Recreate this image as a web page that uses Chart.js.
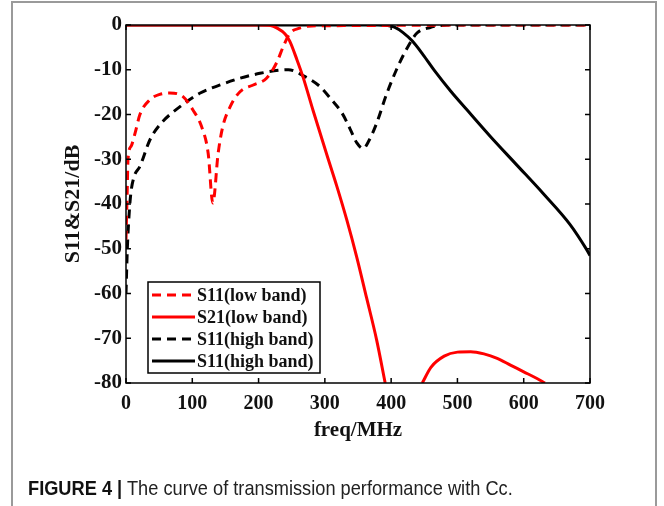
<!DOCTYPE html>
<html>
<head>
<meta charset="utf-8">
<script src="https://cdn.jsdelivr.net/npm/chart.js@4.4.1/dist/chart.umd.min.js"></script>
<style>
  html, body { margin: 0; padding: 0; background: #fff; }
  #wrap { position: relative; width: 664px; height: 506px; overflow: hidden; }
  #frame { position: absolute; left: 11px; top: 1px; width: 642px; height: 530px; border: 2px solid #9a9a9a; }
  #chart { position: absolute; left: 0; top: 0; }
  #caption { position: absolute; left: 28px; top: 476px; font-family: "Liberation Sans", Arial, sans-serif; font-size: 21px; color: #222; white-space: nowrap; transform-origin: left top; }
  #caption b { color: #111; }
</style>
</head>
<body>
<div id="wrap">
  <div id="frame"></div>
  <canvas id="chart" width="664" height="506"></canvas>
  <div id="caption"><b>FIGURE 4 |</b> The curve of transmission performance with Cc.</div>
</div>
<script>
//frequency axis (MHz) and dB values
const freqTicks = [0, 100, 200, 300, 400, 500, 600, 700];
const dbTicks = [0, -10, -20, -30, -40, -50, -60, -70, -80];

const s11LowFreq = [0, 1, 2, 3, 8, 14, 21, 36, 51, 66, 86, 101, 114, 124, 131, 139, 146, 157, 172, 192, 212, 227, 237, 247, 262, 280, 700];
const s11LowDb = [-48, -42, -36, -30, -27, -24, -20, -16.7, -15.5, -15.2, -16, -19, -22.7, -28.7, -39.8, -28.7, -22.7, -18.3, -14.9, -13.4, -11.9, -8.5, -4.9, -1.9, -0.7, -0.2, 0];

const s21LowFreq = [0, 200, 218, 228, 240, 247, 258, 267, 282, 303, 318, 333, 348, 363, 378, 391, 420, 447, 460, 480, 500, 520, 540, 560, 580, 600, 620, 632];
const s21LowDb = [0, 0, -0.1, -0.7, -2, -3.6, -7.8, -11.6, -19, -29, -36, -43.5, -51.8, -61, -70.3, -80, null, -80, -76.5, -74, -73.1, -73, -73.5, -74.5, -76, -77.5, -79, -80];

const s11HighFreq = [0, 2, 4, 7, 12, 21, 36, 51, 81, 112, 142, 172, 202, 232, 245, 267, 293, 310, 326, 338, 348, 358, 366, 378, 393, 408, 421, 439, 458, 484, 700];
const s11HighDb = [-60, -50, -44, -38, -34, -31.6, -25.7, -22.3, -18.3, -15.2, -13.4, -11.9, -10.8, -10.1, -10, -11.3, -13.8, -16.7, -19.7, -23.2, -26.3, -27.6, -26, -22, -15.5, -10, -6, -1.8, -0.6, 0, 0];

const s21HighFreq = [0, 380, 395, 405, 418, 432, 448, 466, 490, 514, 549, 589, 629, 670, 695, 700];
const s21HighDb = [0, 0, -0.1, -0.5, -1.7, -3.6, -6.6, -10.3, -14.8, -18.9, -24.8, -31.2, -37.6, -44.6, -50.2, -51.5];

const seriesLabels = ['S11(low band)', 'S21(low band)', 'S11(high band)', 'S11(high band)'];

function pts(xs, ys) {
    return xs.map((x, i) => ({ x: x, y: ys[i] }));
}

const serif = '"Liberation Serif", "Times New Roman", serif';

//box, inner ticks and the legend drawn on top of the plot
const framePlugin = {
    id: 'frame',
    afterDraw(chart) {
        const ctx = chart.ctx;
        const a = chart.chartArea;
        const xs = chart.scales.x, ys = chart.scales.y;
        ctx.save();
        ctx.strokeStyle = '#000';
        ctx.lineWidth = 1.5;
        ctx.strokeRect(a.left, a.top, a.right - a.left, a.bottom - a.top);
        ctx.beginPath();
        freqTicks.forEach(v => {
            const px = xs.getPixelForValue(v);
            ctx.moveTo(px, a.bottom); ctx.lineTo(px, a.bottom - 5);
            ctx.moveTo(px, a.top); ctx.lineTo(px, a.top + 5);
        });
        dbTicks.forEach(v => {
            const py = ys.getPixelForValue(v);
            ctx.moveTo(a.left, py); ctx.lineTo(a.left + 5, py);
            ctx.moveTo(a.right, py); ctx.lineTo(a.right - 5, py);
        });
        ctx.stroke();

        //legend box
        const lx = 148, ly = 282, lw = 172, lh = 91;
        ctx.fillStyle = '#fff';
        ctx.fillRect(lx, ly, lw, lh);
        ctx.lineWidth = 1.5;
        ctx.strokeRect(lx, ly, lw, lh);
        const rows = [295, 317, 339, 361];
        chart.data.datasets.forEach((ds, i) => {
            ctx.beginPath();
            ctx.strokeStyle = ds.borderColor;
            ctx.lineWidth = ds.borderWidth;
            ctx.setLineDash(ds.borderDash || []);
            ctx.moveTo(152, rows[i]);
            ctx.lineTo(195, rows[i]);
            ctx.stroke();
            ctx.setLineDash([]);
            ctx.fillStyle = '#111';
            ctx.font = 'bold 18px ' + serif;
            ctx.textBaseline = 'middle';
            ctx.textAlign = 'left';
            ctx.fillText(ds.label, 197, rows[i] + 1);
        });
        ctx.restore();
    }
};

const canvas = document.getElementById('chart');
new Chart(canvas, {
    type: 'line',
    data: {
        datasets: [
            { label: seriesLabels[0], data: pts(s11LowFreq, s11LowDb), borderColor: '#ff0000', borderWidth: 3, borderDash: [9, 6] },
            { label: seriesLabels[1], data: pts(s21LowFreq, s21LowDb), borderColor: '#ff0000', borderWidth: 3 },
            { label: seriesLabels[2], data: pts(s11HighFreq, s11HighDb), borderColor: '#000000', borderWidth: 3, borderDash: [9, 6] },
            { label: seriesLabels[3], data: pts(s21HighFreq, s21HighDb), borderColor: '#000000', borderWidth: 3 }
        ]
    },
    options: {
        responsive: false,
        animation: false,
        spanGaps: false,
        layout: { padding: { left: 0, top: 25, right: 74, bottom: 0 } },
        elements: {
            point: { radius: 0 },
            line: { cubicInterpolationMode: 'monotone', fill: false }
        },
        scales: {
            x: {
                type: 'linear',
                min: 0, max: 700,
                afterFit: s => { s.height = 506 - 25 - 358; },
                afterBuildTicks: s => { s.ticks = freqTicks.map(v => ({ value: v })); },
                grid: { display: false, drawTicks: false },
                border: { display: false },
                ticks: { color: '#111', padding: 9, font: { family: serif, size: 20, weight: 'bold' } },
                title: { display: true, text: 'freq/MHz', color: '#111', padding: { top: 0, bottom: 63 }, font: { family: serif, size: 21, weight: 'bold' } }
            },
            y: {
                min: -80, max: 0,
                afterFit: s => { s.width = 126; },
                afterBuildTicks: s => { s.ticks = dbTicks.map(v => ({ value: v })); },
                grid: { display: false, drawTicks: false },
                border: { display: false },
                ticks: { color: '#111', padding: 4, font: { family: serif, size: 21, weight: 'bold' } },
                title: { display: true, text: 'S11&S21/dB', color: '#111', padding: { top: 60, bottom: 0 }, font: { family: serif, size: 22, weight: 'bold' } }
            }
        },
        plugins: {
            legend: { display: false },
            tooltip: { enabled: false }
        }
    },
    plugins: [framePlugin]
});

//squeeze the caption to the width it has in the figure
const cap = document.getElementById('caption');
cap.style.transform = 'scaleX(' + (485 / cap.offsetWidth) + ')';
</script>
</body>
</html>
